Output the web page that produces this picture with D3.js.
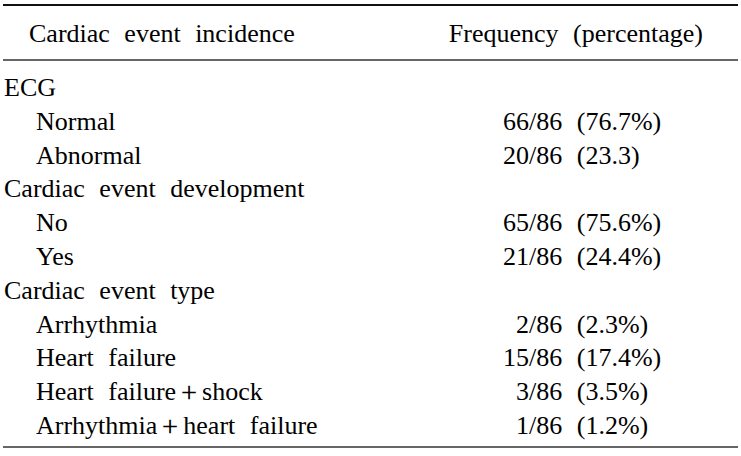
<!DOCTYPE html>
<html>
<head>
<meta charset="utf-8">
<script src="https://cdn.jsdelivr.net/npm/d3@7"></script>
<style>
  html, body { margin: 0; padding: 0; background: #fff; }
  svg text { font-family: "Liberation Serif", "DejaVu Serif", serif; fill: #000; }
</style>
</head>
<body>
<svg id="chart"></svg>
<script>
// SIZES
var width = 741;
var height = 456;

// DATA
var headers = ["Cardiac event incidence", "Frequency (percentage)"];
var rowLabels = ["ECG", "Normal", "Abnormal",
                 "Cardiac event development", "No", "Yes",
                 "Cardiac event type", "Arrhythmia", "Heart failure",
                 "Heart failure+shock", "Arrhythmia+heart failure"];
var rowLevels = [0, 1, 1, 0, 1, 1, 0, 1, 1, 1, 1];
var counts   = [null, 66, 20, null, 65, 21, null, 2, 15, 3, 1];
var total    = 86;
var pctText  = [null, "76.7%", "23.3", null, "75.6%", "24.4%", null, "2.3%", "17.4%", "3.5%", "1.2%"];

// LOOK
var fontSize = 26;
var wordGap = 8;         // the source uses wide word spacing
var xGroup = 4;
var xItem = 36;
var xHeader = 29;
var xSlash = 529;        // values line up on the "/"
var lineX0 = 3, lineX1 = 738;

var svg = d3.select("#chart").attr("width", width).attr("height", height);

// row baselines
var y = d3.scalePoint()
    .domain(d3.range(rowLabels.length))
    .range([96, 434]);

// rules
svg.append("line").attr("x1", lineX0).attr("x2", lineX1).attr("y1", 5).attr("y2", 5)
    .attr("stroke", "#111").attr("stroke-width", 2.2);
svg.append("line").attr("x1", lineX0).attr("x2", lineX1).attr("y1", 60).attr("y2", 60)
    .attr("stroke", "#333").attr("stroke-width", 1.3);
svg.append("line").attr("x1", lineX0).attr("x2", lineX1).attr("y1", 447).attr("y2", 447)
    .attr("stroke", "#333").attr("stroke-width", 1.4);

// headers
svg.append("text")
    .attr("x", xHeader).attr("y", 42)
    .attr("font-size", fontSize).style("word-spacing", wordGap + "px")
    .text(headers[0]);
svg.append("text")
    .attr("x", 703).attr("y", 42)
    .attr("text-anchor", "end")
    .attr("font-size", fontSize).style("word-spacing", wordGap + "px")
    .text(headers[1]);

// label column
svg.selectAll("text.label")
    .data(rowLabels)
    .enter()
    .append("text")
    .attr("class", "label")
    .attr("x", function(d, i){ return rowLevels[i] == 0 ? xGroup : xItem; })
    .attr("y", function(d, i){ return y(i); })
    .attr("font-size", fontSize)
    .style("word-spacing", wordGap + "px")
    .text(function(d){ return d.replace(/\+/g, "\uFF0B"); });

// frequency column : numerator right aligned, rest left aligned on the slash
var valueRows = d3.range(rowLabels.length).filter(function(i){ return counts[i] != null; });

svg.selectAll("text.num")
    .data(valueRows)
    .enter()
    .append("text")
    .attr("class", "num")
    .attr("x", xSlash)
    .attr("y", function(i){ return y(i); })
    .attr("text-anchor", "end")
    .attr("font-size", fontSize)
    .text(function(i){ return counts[i]; });

svg.selectAll("text.rest")
    .data(valueRows)
    .enter()
    .append("text")
    .attr("class", "rest")
    .attr("x", xSlash)
    .attr("y", function(i){ return y(i); })
    .attr("font-size", fontSize)
    .style("word-spacing", wordGap + "px")
    .text(function(i){ return "/" + total + " (" + pctText[i] + ")"; });
</script>
</body>
</html>
